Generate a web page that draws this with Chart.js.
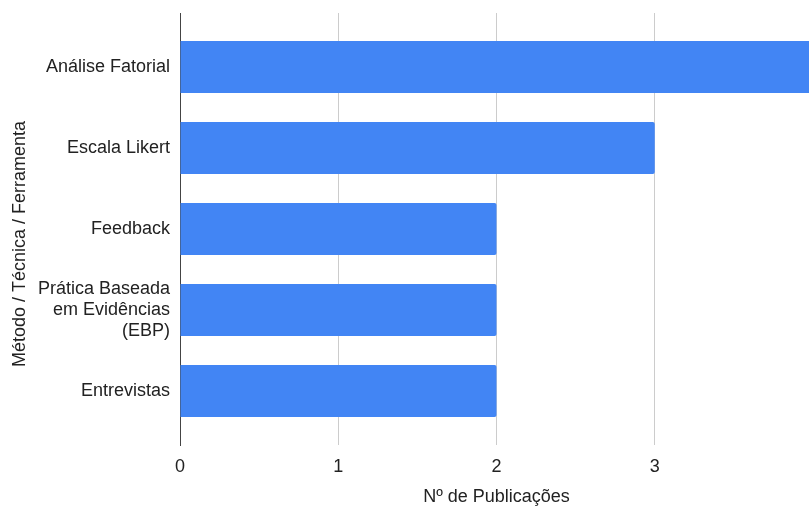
<!DOCTYPE html>
<html lang="pt">
<head>
<meta charset="utf-8">
<title>Nº de Publicações por Método / Técnica / Ferramenta</title>
<script src="https://cdn.jsdelivr.net/npm/chart.js@4/dist/chart.umd.min.js"></script>
<style>
    html, body { margin: 0; padding: 0; background: #fff; overflow: hidden; }
    #wrap { width: 813px; height: 506px; }
</style>
</head>
<body>
<div id="wrap"><canvas id="pub-chart" width="813" height="506"></canvas></div>
<script>
// categorias (de cima para baixo) e número de publicações
const categorias = [
    'Análise Fatorial',
    'Escala Likert',
    'Feedback',
    ['Prática Baseada', 'em Evidências', '(EBP)'],
    'Entrevistas'
];
const publicacoes = [4, 3, 2, 2, 2];
const xTicks = [0, 1, 2, 3];

const FONT = "'Liberation Sans', Arial, sans-serif";
const TXT = '#222';

function docReady(fn) {
    if (document.readyState === "complete" || document.readyState === "interactive") {
        setTimeout(fn, 1);
    } else {
        document.addEventListener("DOMContentLoaded", fn);
    }
}

docReady(function () {
    // y linear com índices 0..4 para deixar uma margem extra acima e abaixo
    const pontos = publicacoes.map((v, i) => ({x: v, y: i}));

    const config = {
        type: 'bar',
        data: {
            datasets: [{
                label: 'Nº de Publicações',
                data: pontos,
                backgroundColor: '#4285F4',
                borderWidth: 0,
                borderRadius: 2,
                categoryPercentage: 1,
                barPercentage: 0.64
            }]
        },
        options: {
            indexAxis: 'y',
            responsive: false,
            animation: false,
            layout: {padding: {top: 13, right: 0, bottom: 0, left: 0}},
            plugins: {
                legend: {display: false},
                tooltip: {enabled: false}
            },
            scales: {
                x: {
                    type: 'linear',
                    min: 0,
                    max: 4,
                    afterBuildTicks: (scale) => {
                        scale.ticks = xTicks.map(v => ({value: v}));
                    },
                    afterFit: (scale) => {
                        scale.height = 61;
                    },
                    ticks: {
                        color: TXT,
                        padding: 11,
                        maxRotation: 0,
                        font: {family: FONT, size: 18, lineHeight: 1.2}
                    },
                    grid: {
                        color: (ctx) => ctx.tick && ctx.tick.value === 0 ? 'rgba(0,0,0,0)' : '#cccccc',
                        lineWidth: 1,
                        drawTicks: false,
                        tickLength: 0
                    },
                    border: {display: false},
                    title: {
                        display: true,
                        text: 'Nº de Publicações',
                        color: TXT,
                        font: {family: FONT, size: 18, lineHeight: 1},
                        padding: {top: 12, bottom: 0}
                    }
                },
                y: {
                    type: 'linear',
                    reverse: true,
                    offset: false,
                    bounds: 'data',
                    min: -0.667,
                    max: categorias.length - 1 + 0.667,
                    afterBuildTicks: (scale) => {
                        scale.ticks = categorias.map((c, i) => ({value: i}));
                    },
                    afterFit: (scale) => {
                        scale.width = 180;
                        scale.paddingTop = 0;
                        scale.paddingBottom = 0;
                    },
                    ticks: {
                        color: TXT,
                        padding: 10,
                        font: {family: FONT, size: 18, lineHeight: 1.17},
                        callback: (v) => categorias[v]
                    },
                    grid: {display: false, drawTicks: false, offset: false},
                    border: {display: true, color: '#444', width: 1},
                    title: {
                        display: true,
                        // espaços no fim baixam o título para o centro da figura
                        text: 'Método / Técnica / Ferramenta      ',
                        color: TXT,
                        font: {family: FONT, size: 18, lineHeight: 1},
                        padding: {top: 11, bottom: 0}
                    }
                }
            }
        }
    };

    let ctx = document.getElementById("pub-chart")?.getContext('2d');
    if (ctx) {
        new Chart(ctx, config);
    }
});
</script>
</body>
</html>
